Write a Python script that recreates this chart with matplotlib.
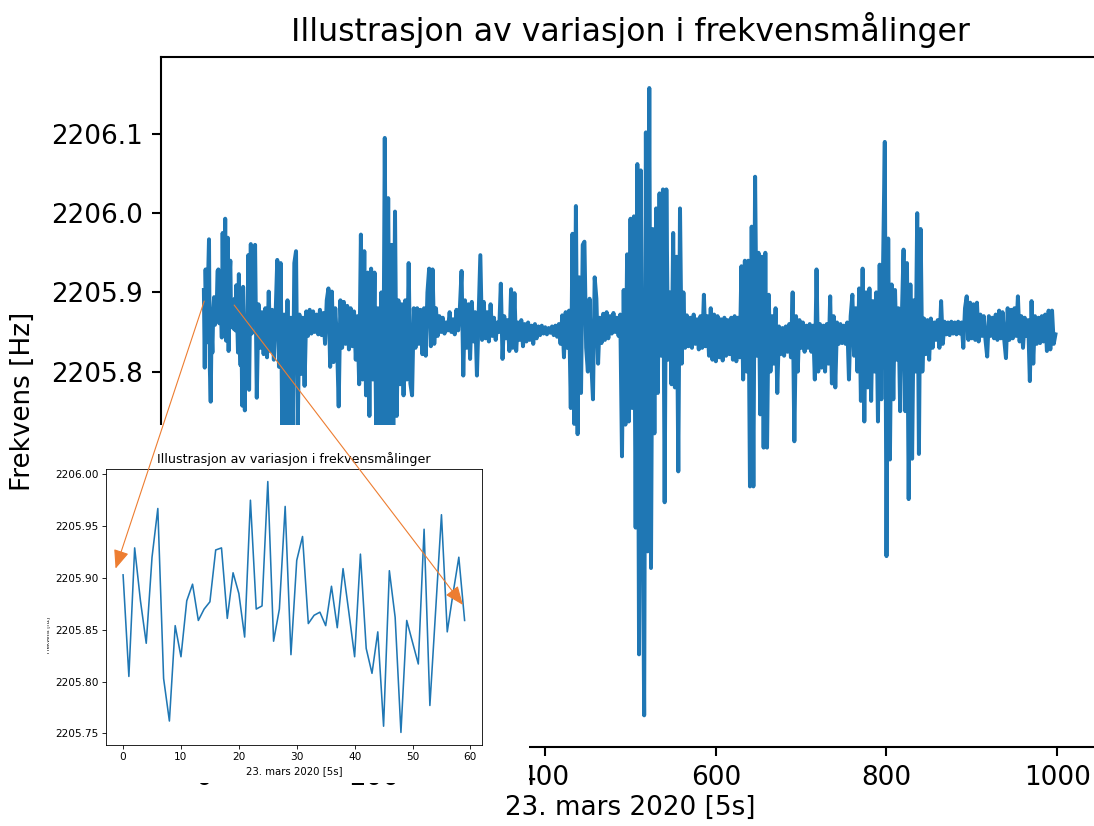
import numpy as np
import matplotlib
matplotlib.use("Agg")
import matplotlib.pyplot as plt
from matplotlib.patches import Rectangle, ConnectionPatch
from matplotlib.ticker import MultipleLocator, FormatStrFormatter
from matplotlib.transforms import Bbox, TransformedBbox

TITLE = "Illustrasjon av variasjon i frekvensmålinger"
XLABEL = "23. mars 2020 [5s]"
YLABEL = "Frekvens [Hz]"

# first 60 samples (the ones shown in the small zoomed plot), Hz
first_60 = [
    2205.903, 2205.805, 2205.929, 2205.878, 2205.837, 2205.920, 2205.967, 2205.803, 2205.762, 2205.854,
    2205.824, 2205.878, 2205.894, 2205.859, 2205.870, 2205.877, 2205.927, 2205.929, 2205.861, 2205.905,
    2205.885, 2205.843, 2205.975, 2205.870, 2205.873, 2205.993, 2205.839, 2205.870, 2205.969, 2205.826,
    2205.917, 2205.940, 2205.856, 2205.864, 2205.867, 2205.854, 2205.892, 2205.852, 2205.909, 2205.867,
    2205.824, 2205.923, 2205.832, 2205.808, 2205.848, 2205.757, 2205.907, 2205.862, 2205.751, 2205.859,
    2205.838, 2205.817, 2205.947, 2205.777, 2205.869, 2205.961, 2205.848, 2205.885, 2205.920, 2205.859,
]

# rest of the day, read every second sample, in mHz above 2205 Hz
rest_060_298 = [
    960, 767, 885, 830, 875, 822, 880, 818, 901, 826,
    878, 815, 870, 941, 806, 937, 705, 872, 712, 890,
    698, 868, 715, 937, 952, 728, 872, 797, 868, 782,
    876, 845, 878, 848, 876, 850, 872, 847, 878, 846,
    874, 835, 890, 905, 806, 901, 812, 880, 838, 756,
    890, 830, 888, 835, 883, 828, 880, 832, 876, 815,
    870, 784, 973, 790, 952, 770, 925, 744, 930, 790,
    925, 720, 880, 712, 900, 705, 1095, 725, 1019, 715,
    960, 718, 1002, 744, 890, 784, 885, 770, 890, 790,
    937, 785, 770, 880, 830, 880, 835, 878, 822, 880,
    820, 900, 930, 832, 929, 835, 880, 845, 870, 850,
    868, 848, 862, 852, 875, 850, 866, 847, 878, 852,
]
rest_300_498 = [
    880, 927, 795, 890, 830, 885, 816, 888, 838, 875,
    795, 870, 947, 840, 888, 842, 875, 838, 885, 845,
    868, 840, 862, 850, 911, 816, 870, 842, 865, 826,
    904, 830, 899, 826, 862, 840, 865, 832, 860, 838,
    862, 840, 858, 835, 860, 842, 857, 846, 858, 848,
    856, 847, 855, 849, 857, 846, 858, 844, 860, 835,
    871, 818, 875, 830, 877, 754, 974, 734, 1009, 721,
    919, 773, 960, 964, 830, 800, 892, 812, 765, 919,
    892, 810, 868, 836, 873, 840, 875, 842, 870, 848,
    874, 850, 868, 845, 872, 693, 903, 733, 948, 737,
]
rest_500_698 = [
    993, 754, 996, 603, 1062, 443, 1054, 690, 366, 1102,
    573, 1158, 552, 980, 722, 1006, 773, 1025, 820, 1030,
    635, 1030, 815, 900, 784, 975, 780, 945, 674, 1006,
    810, 900, 830, 871, 832, 868, 830, 872, 835, 866,
    828, 870, 830, 897, 832, 870, 820, 880, 815, 872,
    813, 870, 818, 866, 814, 868, 820, 865, 822, 868,
    815, 870, 813, 868, 818, 933, 790, 940, 800, 940,
    655, 983, 655, 1046, 820, 950, 746, 945, 704, 950,
    704, 897, 800, 870, 810, 880, 773, 857, 822, 855,
    820, 857, 825, 860, 818, 900, 712, 870, 800, 865,
]
rest_700_998 = [
    830, 862, 825, 858, 830, 860, 825, 858, 790, 929,
    800, 860, 805, 858, 800, 860, 810, 895, 785, 870,
    780, 862, 835, 860, 836, 858, 835, 862, 790, 870,
    897, 820, 880, 800, 905, 763, 930, 737, 900, 780,
    905, 763, 889, 800, 900, 737, 935, 765, 935, 1090,
    567, 968, 689, 910, 765, 903, 815, 880, 750, 870,
    954, 750, 937, 639, 910, 690, 890, 800, 1000, 696,
    980, 800, 867, 822, 865, 815, 867, 830, 862, 840,
    865, 830, 889, 835, 863, 847, 862, 846, 863, 848,
    862, 847, 863, 848, 862, 830, 880, 895, 840, 887,
    842, 885, 840, 887, 838, 872, 845, 870, 840, 819,
    870, 845, 868, 842, 872, 840, 877, 842, 875, 840,
    817, 880, 840, 878, 842, 880, 845, 895, 838, 870,
    830, 868, 845, 865, 788, 889, 810, 870, 835, 868,
    836, 870, 838, 872, 826, 877, 828, 877, 835, 847,
]

# y ticks left uncovered on the big plot
main_yticks = [2205.8, 2205.9, 2206.0, 2206.1]

# where the two arrows start (big plot) and end (small plot), data coords
arrow_from = [(0.4, 2205.889), (35.5, 2205.884)]
arrow_to = [(-1.3, 2205.909), (58.7, 2205.874)]

BLUE = "#1f77b4"
ORANGE = "#ed7d31"
# white patch under the small plot, figure fraction (x0, y0, w, h)
COVER = (0.0434, 0.0521, 0.4406, 0.4334)


def build_series():
    rest = np.array(rest_060_298 + rest_300_498 + rest_500_698 + rest_700_998)
    x = np.concatenate([np.arange(60), np.arange(60, 1000, 2)])
    y = np.concatenate([np.array(first_60), 2205 + rest / 1000.0])
    return x, y


def main():
    x, y = build_series()

    fig = plt.figure(figsize=(10.94, 8.26), dpi=100)

    # big plot (runs off the right edge like the screenshot)
    ax = fig.add_axes([0.1474, 0.0960, 0.8571, 0.8354])
    ax.plot(x, y, color=BLUE, lw=2.85)
    ax.set_xlim(-49.95, 1048.95)
    ax.set_yticks(main_yticks)
    ax.yaxis.set_major_formatter(FormatStrFormatter("%.1f"))
    ax.tick_params(labelsize=18.9, length=6.6, width=1.5, pad=6.6)
    for sp in ax.spines.values():
        sp.set_linewidth(1.5)
    ax.set_title(TITLE, fontsize=22.7, pad=11.3)
    ax.set_xlabel(XLABEL, fontsize=18.9, labelpad=3)
    ax.set_ylabel(YLABEL, fontsize=18.9, labelpad=11)

    cover = Rectangle(COVER[:2], COVER[2], COVER[3], transform=fig.transFigure,
                      facecolor="white", edgecolor="none", zorder=1)
    fig.add_artist(cover)

    # small plot: first 60 samples
    ins = fig.add_axes([0.0969, 0.0981, 0.3434, 0.3341], zorder=2)
    ins.plot(np.arange(len(first_60)), first_60, color=BLUE, lw=1.14)
    ins.yaxis.set_major_locator(MultipleLocator(0.05))
    ins.yaxis.set_major_formatter(FormatStrFormatter("%.2f"))
    ins.tick_params(labelsize=7.6, length=2.66, width=0.6, pad=2.66)
    for sp in ins.spines.values():
        sp.set_linewidth(0.6)
    ins.set_title(TITLE, fontsize=9.1, pad=4.6)
    ins.set_xlabel(XLABEL, fontsize=7.3, labelpad=2.5)
    # its y label is cut in half by the edge of the pasted plot
    ins.set_ylabel(YLABEL, fontsize=3.8)
    ins.yaxis.set_label_coords(-0.1477, 0.40)
    ins.yaxis.label.set_clip_box(TransformedBbox(Bbox.from_bounds(*COVER), fig.transFigure))

    for a, b in zip(arrow_from, arrow_to):
        con = ConnectionPatch(xyA=a, coordsA="data", axesA=ax,
                              xyB=b, coordsB="data", axesB=ins,
                              arrowstyle="-|>,head_length=1.15,head_width=0.47",
                              mutation_scale=10, color=ORANGE, lw=0.8,
                              shrinkA=0, shrinkB=0, zorder=3)
        fig.add_artist(con)

    fig.savefig("out.png", dpi=100)


if __name__ == "__main__":
    main()
